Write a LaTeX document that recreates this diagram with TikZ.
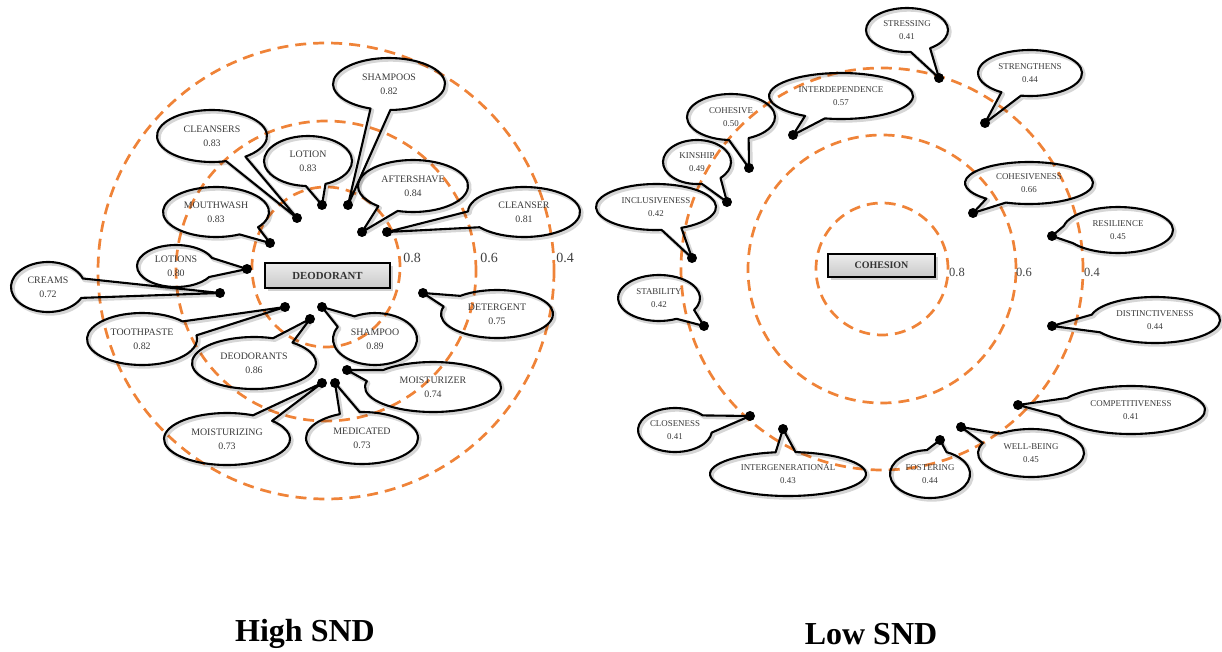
\documentclass[tikz,border=0pt]{standalone}
\usepackage{fontspec}
\setmainfont{Liberation Serif}
\definecolor{ringorange}{RGB}{239,131,56}
\definecolor{ink}{RGB}{58,58,58}

\tikzset{
  ringline/.style={draw=ringorange, line width=2.7pt, dash pattern=on 11pt off 7pt},
  bubble line/.style={draw=black, line width=2.1pt, line join=round},
  bubble shadow/.style={draw=black, opacity=0.16, line width=3.8pt, line join=round,
                        transform canvas={shift={(1.8pt,-1.8pt)}}},
  wordL/.style={font=\fontsize{9.9}{14}\selectfont, text=ink, align=center, inner sep=0pt},
  wordR/.style={font=\fontsize{8.9}{12.5}\selectfont, text=ink, align=center, inner sep=0pt},
  centrebox/.style={draw=black, line width=2.4pt, top color=gray!15, bottom color=gray!42,
                    text=black!80, inner sep=0pt},
  boxshadow/.style={fill=black, opacity=0.18, transform canvas={shift={(2.5pt,-2.5pt)}}},
  ringlabelL/.style={font=\fontsize{14}{15}\selectfont, text=black!75, inner sep=0pt},
  ringlabelR/.style={font=\fontsize{12.5}{14}\selectfont, text=black!75, inner sep=0pt},
  caption/.style={font=\fontsize{32}{34}\selectfont\bfseries, inner sep=0pt}
}

% speech bubble: name, centre x, centre y, x radius, y radius, dot x, dot y, word, value
% (positions in pixels measured downwards from the top edge)
\newcommand\bubble[9]{%
  \coordinate (#1-c) at (#2,-#3);
  \coordinate (#1-dot) at (#6,-#7);
  \pgfmathsetmacro\ba{atan2((#3-#7)/#5,(#6-#2)/#4)}%
  \pgfmathsetmacro\bw{deg(10/sqrt((#4*sin(\ba))^2+(#5*cos(\ba))^2))}%
  \draw[bubble shadow] ([shift={(\ba+\bw:#4pt and #5pt)}]#1-c)
     arc[start angle=\ba+\bw, delta angle=360-2*\bw, x radius=#4pt, y radius=#5pt]
     -- (#1-dot) -- cycle;
  \draw[bubble line] ([shift={(\ba+\bw:#4pt and #5pt)}]#1-c)
     arc[start angle=\ba+\bw, delta angle=360-2*\bw, x radius=#4pt, y radius=#5pt]
     -- (#1-dot) -- cycle;
  \fill (#1-dot) circle (5pt);
  \node[word] (#1) at (#1-c) {#8\\#9};
}

\begin{document}
\begin{tikzpicture}[x=1pt, y=1pt]
\useasboundingbox (0,0) rectangle (1222,-652);

% ---------- High SND: DEODORANT ----------
\coordinate (hc) at (326,-271);
\draw[ringline] (326,-267) ellipse [x radius=74pt, y radius=80pt];
\draw[ringline] (hc) circle (150pt);
\draw[ringline] (hc) circle (228pt);

\begin{scope}[word/.style={wordL}]
\bubble{shampoos}{389}{84}{56}{26}{348}{205}{SHAMPOOS}{0.82}
\bubble{lotion}{308}{161}{44}{25}{322}{205}{LOTION}{0.83}
\bubble{cleansers}{212}{136}{55}{26}{297}{218}{CLEANSERS}{0.83}
\bubble{mouthwash}{216}{212}{53}{25}{270}{243}{MOUTHWASH}{0.83}
\bubble{lotions}{176}{266}{39}{21}{247}{269}{LOTIONS}{0.80}
\bubble{creams}{48}{287}{37}{25}{220}{293}{CREAMS}{0.72}
\bubble{toothpaste}{142}{339}{55}{26}{285}{307}{TOOTHPASTE}{0.82}
\bubble{deodorants}{254}{363}{62}{26}{310}{319}{DEODORANTS}{0.86}
\bubble{shampoo}{375}{339}{42}{26}{322}{307}{SHAMPOO}{0.89}
\bubble{detergent}{497}{314}{56}{24}{423}{293}{DETERGENT}{0.75}
\bubble{moisturizer}{433}{387}{68}{25}{347}{370}{MOISTURIZER}{0.74}
\bubble{moisturizing}{227}{439}{63}{26}{322}{383}{MOISTURIZING}{0.73}
\bubble{medicated}{362}{438}{56}{26}{335}{383}{MEDICATED}{0.73}
\bubble{aftershave}{413}{186}{55}{26}{362}{232}{AFTERSHAVE}{0.84}
\bubble{cleanser}{524}{212}{56}{25}{387}{232}{CLEANSER}{0.81}
\end{scope}

\fill[boxshadow] (265,-263) rectangle (390,-288);
\node[centrebox, minimum width=125pt, minimum height=25pt,
      font=\fontsize{10.8}{12}\selectfont\bfseries] (deodorant) at (327.5,-275.5) {DEODORANT};

\node[ringlabelL] (h08) at (412,-258) {0.8};
\node[ringlabelL] (h06) at (489,-258) {0.6};
\node[ringlabelL] (h04) at (565,-258) {0.4};

% ---------- Low SND: COHESION ----------
\coordinate (lc) at (882,-269);
\draw[ringline] (lc) circle (66pt);
\draw[ringline] (lc) circle (134pt);
\draw[ringline] (lc) circle (201pt);

\begin{scope}[word/.style={wordR}]
\bubble{stressing}{907}{30}{41}{22}{939}{78}{STRESSING}{0.41}
\bubble{strengthens}{1030}{73}{52}{23}{985}{123}{STRENGTHENS}{0.44}
\bubble{interdependence}{841}{96}{72}{23}{793}{135}{INTERDEPENDENCE}{0.57}
\bubble{cohesive}{731}{117}{44}{23}{749}{168}{COHESIVE}{0.50}
\bubble{kinship}{697}{162}{34}{22}{727}{202}{KINSHIP}{0.49}
\bubble{inclusiveness}{656}{207}{60}{23}{692}{258}{INCLUSIVENESS}{0.42}
\bubble{stability}{659}{298}{41}{23}{704}{326}{STABILITY}{0.42}
\bubble{closeness}{675}{430}{37}{22}{750}{416}{CLOSENESS}{0.41}
\bubble{intergenerational}{788}{474}{78}{22}{783}{429}{INTERGENERATIONAL}{0.43}
\bubble{fostering}{930}{474}{40}{24}{940}{440}{FOSTERING}{0.44}
\bubble{wellbeing}{1031}{453}{53}{24}{961}{427}{WELL-BEING}{0.45}
\bubble{competitiveness}{1131}{410}{74}{24}{1018}{405}{COMPETITIVENESS}{0.41}
\bubble{distinctiveness}{1155}{320}{65}{23}{1052}{326}{DISTINCTIVENESS}{0.44}
\bubble{resilience}{1118}{230}{55}{23}{1052}{236}{RESILIENCE}{0.45}
\bubble{cohesiveness}{1029}{183}{64}{21}{973}{213}{COHESIVENESS}{0.66}
\end{scope}

\fill[boxshadow] (828,-254) rectangle (935,-277);
\node[centrebox, minimum width=107pt, minimum height=23pt,
      font=\fontsize{10}{12}\selectfont\bfseries] (cohesion) at (881.5,-265.5) {COHESION};

\node[ringlabelR] (l08) at (957,-272) {0.8};
\node[ringlabelR] (l06) at (1024,-272) {0.6};
\node[ringlabelR] (l04) at (1092,-272) {0.4};

% ---------- captions ----------
\node[caption] (high) at (305,-634) {High SND};
\node[caption] (low) at (871,-634) {Low SND};
\end{tikzpicture}
\end{document}
